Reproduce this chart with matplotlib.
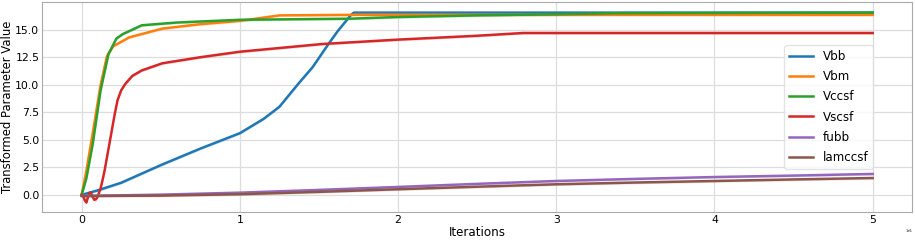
import numpy as np
import matplotlib
matplotlib.use("Agg")
import matplotlib.pyplot as plt

# iterations in millions (axis shows 1e6 offset)
x_vbb = [0, 0.1, 0.25, 0.5, 0.75, 1.0, 1.15, 1.25, 1.29, 1.37, 1.46, 1.56, 1.62, 1.70, 1.72, 5.0]
vbb = [0, 0.4, 1.1, 2.7, 4.2, 5.6, 6.9, 8.0, 8.7, 10.1, 11.6, 13.7, 14.9, 16.3, 16.55, 16.55]

x_vbm = [0, 0.03, 0.07, 0.12, 0.16, 0.2, 0.3, 0.51, 0.75, 1.0, 1.25, 1.7, 2.5, 5.0]
vbm = [0, 2.2, 5.6, 10.0, 12.6, 13.5, 14.3, 15.1, 15.5, 15.8, 16.3, 16.35, 16.35, 16.35]

x_vccsf = [0, 0.03, 0.07, 0.12, 0.17, 0.22, 0.26, 0.38, 0.6, 1.0, 1.7, 2.0, 2.5, 3.0, 3.4, 5.0]
vccsf = [0, 1.5, 4.6, 9.5, 12.8, 14.2, 14.6, 15.4, 15.65, 15.9, 16.0, 16.15, 16.3, 16.4, 16.5, 16.55]

x_vscsf = [0, 0.01, 0.02, 0.03, 0.04, 0.05, 0.06, 0.07, 0.08, 0.09, 0.1, 0.11, 0.12, 0.13,
           0.145, 0.16, 0.175, 0.195, 0.21, 0.227, 0.25, 0.277, 0.32,
           0.38, 0.51, 0.75, 1.0, 1.52, 2.0, 2.5, 2.79, 5.0]
vscsf = [0, -0.1, -0.5, -0.7, -0.2, 0.2, 0.15, -0.2, -0.45, -0.4, -0.2, 0.2, 0.6, 1.2,
         2.2, 3.4, 4.6, 6.2, 7.4, 8.6, 9.5, 10.1, 10.8,
         11.3, 11.95, 12.5, 13.0, 13.7, 14.1, 14.45, 14.7, 14.7]

x_fubb = [0, 0.5, 1.0, 1.5, 2.0, 2.5, 3.0, 3.5, 4.0, 4.5, 5.0]
fubb = [-0.1, 0.02, 0.2, 0.45, 0.72, 1.0, 1.26, 1.45, 1.62, 1.75, 1.9]

x_lamccsf = [0, 0.5, 1.0, 1.5, 2.0, 2.5, 3.0, 3.5, 4.0, 4.5, 5.0]
lamccsf = [-0.1, -0.07, 0.06, 0.27, 0.51, 0.74, 0.96, 1.12, 1.26, 1.4, 1.53]

series = [
    ("Vbb", x_vbb, vbb, "#1f77b4"),
    ("Vbm", x_vbm, vbm, "#ff7f0e"),
    ("Vccsf", x_vccsf, vccsf, "#2ca02c"),
    ("Vscsf", x_vscsf, vscsf, "#d62728"),
    ("fubb", x_fubb, fubb, "#9467bd"),
    ("lamccsf", x_lamccsf, lamccsf, "#8c564b"),
]

fig, ax = plt.subplots(figsize=(9.15, 2.4), dpi=100)
fig.subplots_adjust(left=0.046, right=0.997, top=0.991, bottom=0.117)

for name, xs, ys, col in series:
    xs = np.array(xs) * 1e6
    ys = np.array(ys)
    ax.fill_between(xs, ys - 0.12, ys + 0.02, color=col, alpha=0.2, linewidth=0)
    ax.plot(xs, ys, color=col, linewidth=1.8, label=name)

ax.set_xlabel("Iterations", fontsize=8.6, labelpad=1)
ax.set_ylabel("Transformed Parameter Value", fontsize=8.4, labelpad=1)
ax.tick_params(labelsize=7.8, length=0, pad=2)
ax.xaxis.get_offset_text().set_fontsize(2.5)
ax.set_ylim(-1.55, 17.5)
ax.set_yticks([0, 2.5, 5, 7.5, 10, 12.5, 15])
ax.grid(True, color="#dddddd", linewidth=0.9)
ax.set_axisbelow(True)
for s in ax.spines.values():
    s.set_color("#aaaaaa")

ax.legend(loc="center right", bbox_to_anchor=(0.962, 0.5), fontsize=8.6,
          labelspacing=0.6, framealpha=0.8, edgecolor="#dddddd")

plt.savefig("out.png", dpi=100)
